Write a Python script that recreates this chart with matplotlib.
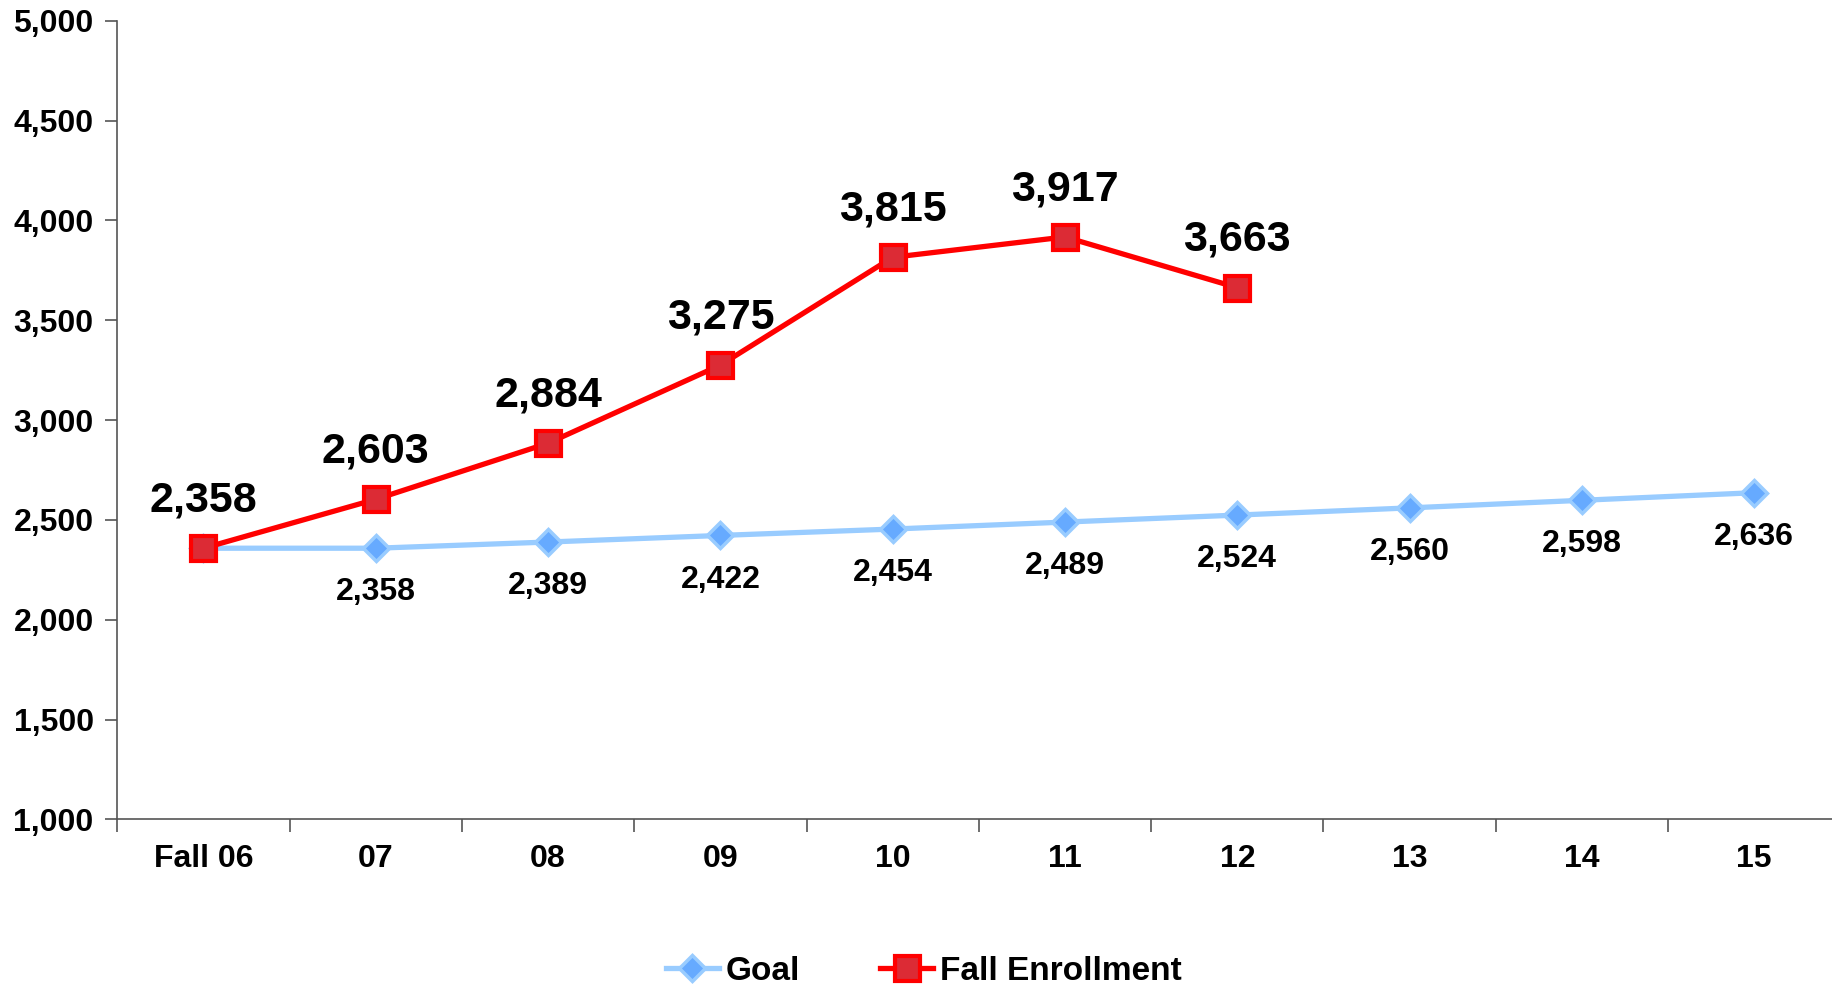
import numpy as np
import matplotlib.pyplot as plt

plt.rcParams['font.family'] = ['Liberation Sans', 'DejaVu Sans']
plt.rcParams['font.weight'] = 'bold'

years = ["Fall 06", "07", "08", "09", "10", "11", "12", "13", "14", "15"]
goal = [2358, 2358, 2389, 2422, 2454, 2489, 2524, 2560, 2598, 2636]
enroll = [2358, 2603, 2884, 3275, 3815, 3917, 3663]

fig = plt.figure(figsize=(18.33, 9.86), dpi=100)
ax = fig.add_axes([0.064, 0.169, 0.94, 0.81])

x = np.arange(len(years))
ax.plot(x, goal, color='#99CCFF', lw=3.8, marker='D', ms=13,
        mfc='#66AAFF', mec='#99CCFF', mew=2.5, label='Goal', zorder=2)
ax.plot(x[:len(enroll)], enroll, color='#FF0000', lw=3.8, marker='s', ms=18,
        mfc='#DC2B35', mec='#FF0000', mew=3, label='Fall Enrollment', zorder=3)

for i in range(1, len(goal)):
    ax.annotate(f"{goal[i]:,}", (x[i], goal[i]), xytext=(0, -21), textcoords='offset points',
                ha='center', va='top', fontsize=23, fontweight='bold')
for i in range(len(enroll)):
    ax.annotate(f"{enroll[i]:,}", (x[i], enroll[i]), xytext=(0, 20), textcoords='offset points',
                ha='center', va='bottom', fontsize=31, fontweight='bold')

ax.set_xlim(-0.5, len(years) - 0.5)
ax.set_ylim(1000, 5000)
ax.set_yticks(np.arange(1000, 5001, 500))
ax.set_yticklabels([f"{v:,}" for v in range(1000, 5001, 500)], fontsize=23, fontweight='bold')
ax.set_xticks(x)
ax.set_xticklabels(years, fontsize=23, fontweight='bold')
ax.tick_params(axis='x', length=0, pad=18)
ax.set_xticks(np.arange(-0.5, len(years), 1), minor=True)
ax.tick_params(axis='x', which='minor', length=9, width=1.2, color='#555555')
ax.tick_params(axis='y', length=9, width=1.2, color='#555555', pad=8)

for s in ['top', 'right']:
    ax.spines[s].set_visible(False)
for s in ['left', 'bottom']:
    ax.spines[s].set_color('#555555')
    ax.spines[s].set_linewidth(1.2)

ax.legend(loc='center', bbox_to_anchor=(0.468, -0.19), ncol=2, frameon=False,
          prop={'size': 24, 'weight': 'bold'}, handlelength=1.6, handletextpad=0.2,
          columnspacing=2.4)

fig.savefig('out.png', dpi=100)
